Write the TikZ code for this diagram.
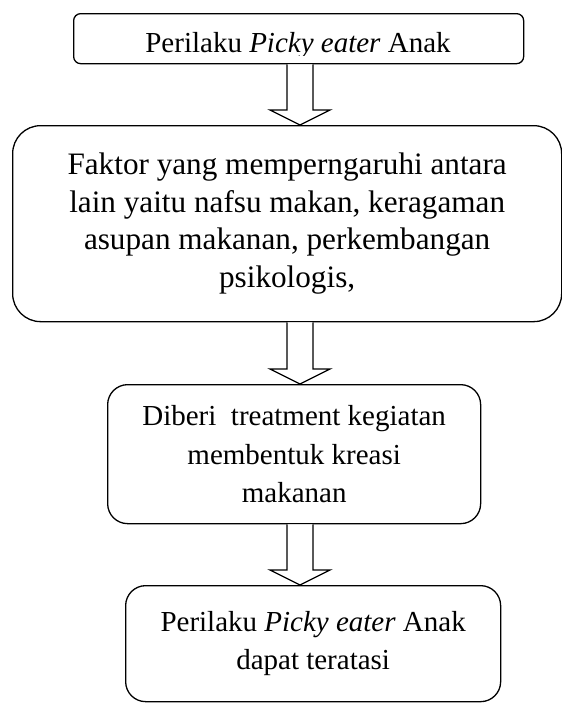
\documentclass[tikz,border=0pt]{standalone}
\usepackage{fontspec}
\setmainfont{Liberation Serif}
\usetikzlibrary{calc}
\tikzset{
  flowbox/.style={draw=black, line width=1.3pt, inner sep=0pt, align=center, anchor=north west},
  blockarrow/.style={draw=black, line width=1.3pt, fill=white, line join=miter},
  bigtext/.style={font=\fontsize{31.2}{37.5}\selectfont},
  midtext/.style={font=\fontsize{29}{38.5}\selectfont}
}
\begin{document}
\begin{tikzpicture}[x=1pt, y=-1pt]
\useasboundingbox (0,0) rectangle (562,704);
\coordinate (ax) at (300,0);
% boxes
\node[flowbox, rounded corners=7pt, minimum width=450pt, minimum height=50pt] (b1) at (73,13) {};
\begin{scope}
\clip (73,13) rectangle (523,55);
\node[midtext, anchor=base, inner sep=0pt] (t1) at (298,52) {Perilaku \textit{Picky eater} Anak};
\end{scope}
\node[flowbox, bigtext, rounded corners=28pt, minimum width=549pt, minimum height=196pt] (b2) at (12,125)
  {Faktor yang memperngaruhi antara\\lain yaitu nafsu makan, keragaman\\asupan makanan, perkembangan\\psikologis,};
\node[flowbox, midtext, rounded corners=20pt, minimum width=373pt, minimum height=139pt] (b3) at (107,384)
  {Diberi\ \ treatment kegiatan\\membentuk kreasi\\makanan};
\node[flowbox, midtext, rounded corners=20pt, minimum width=375pt, minimum height=116pt] (b4) at (125,585)
  {Perilaku \textit{Picky eater} Anak\\dapat teratasi};
% block arrows
\foreach \s/\t in {b1/b2, b2/b3, b3/b4}{
  \draw[blockarrow]
    ($(ax |- \s.south)+(-13,0)$) -- ($(ax |- \t.north)+(-13,-15)$) -- ($(ax |- \t.north)+(-30,-15)$)
    -- (ax |- \t.north) -- ($(ax |- \t.north)+(30,-15)$) -- ($(ax |- \t.north)+(13,-15)$)
    -- ($(ax |- \s.south)+(13,0)$);
}
\end{tikzpicture}
\end{document}
